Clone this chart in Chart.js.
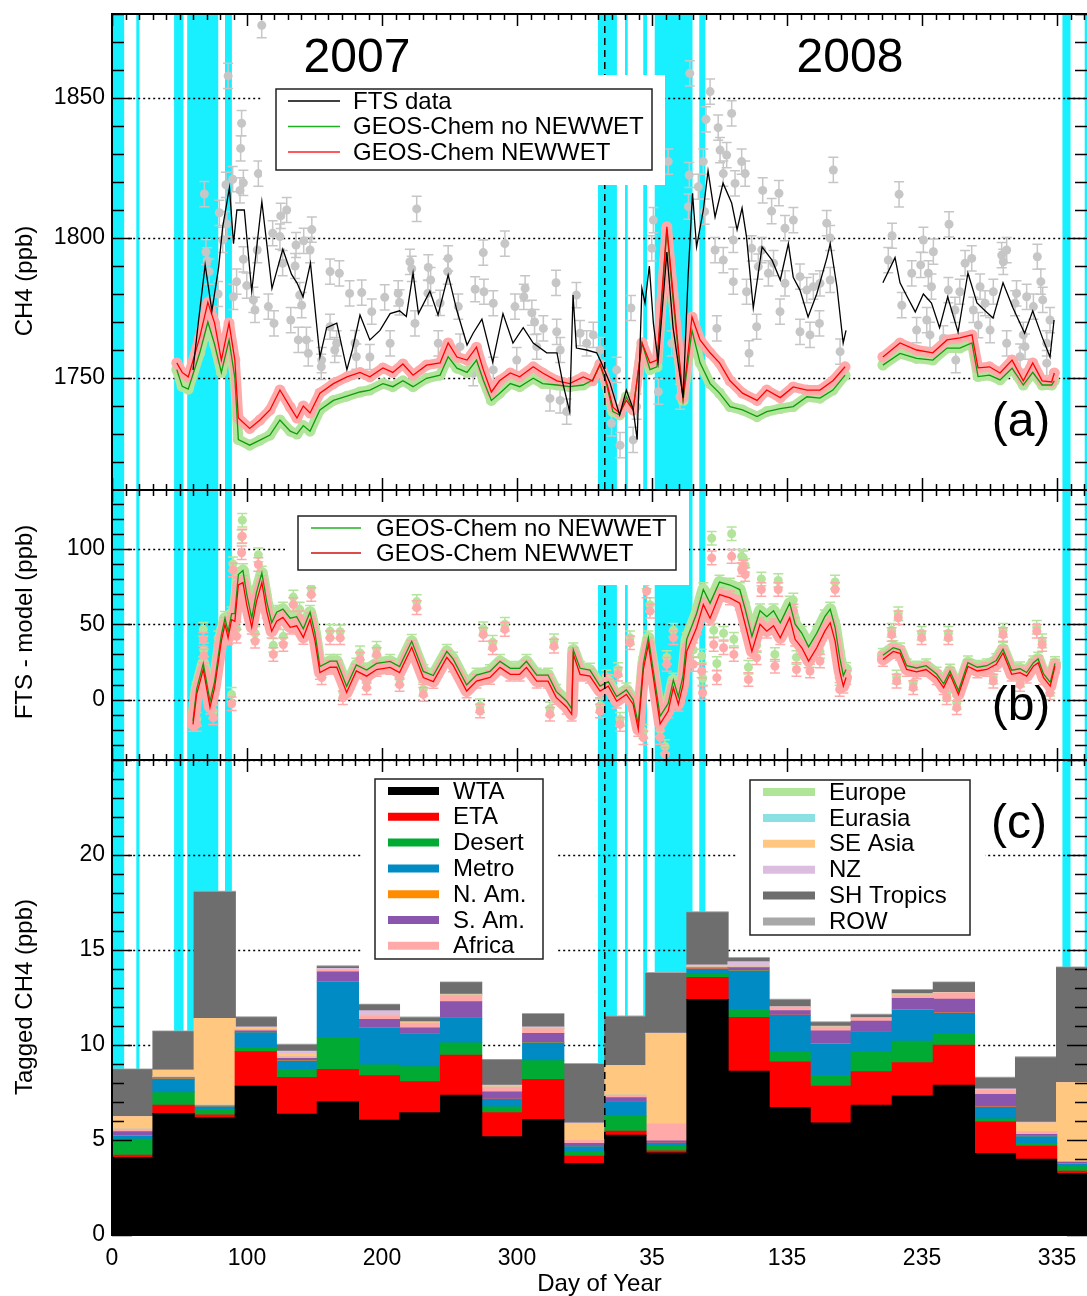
<!DOCTYPE html>
<html>
<head>
<meta charset="utf-8">
<script src="https://cdn.jsdelivr.net/npm/chart.js@4.4.1/dist/chart.umd.min.js"></script>
<style>
  body { margin: 0; background: #fff; }
  #quadro { position: relative; width: 1087px; height: 1296px; overflow: hidden; }
  #quadro canvas { position: absolute; left: 0; }
</style>
</head>
<body>
<div id="quadro">
  <canvas id="painelA" width="1087" height="490" style="top:0"></canvas>
  <canvas id="painelB" width="1087" height="270" style="top:490px"></canvas>
  <canvas id="painelC" width="1087" height="536" style="top:760px"></canvas>
</div>
<script>
const FONT = "'Liberation Sans', Arial, Helvetica, sans-serif";
const X_MAX = 722.2;
const yearBreak = 365;

// --- x axis: 2007 day 0 .. 2008 day ~357 on one continuous scale ---
const xTickValues = [0, 100, 200, 300, 400, 500, 600, 700];
const xTickLabels = ['0', '100', '200', '300', '35', '135', '235', '335'];

// days marked in cyan (start, end)
const gapBands = [[0.7, 9], [18, 20.3], [46, 53], [55.7, 78.7], [83.7, 88.8], [360, 374], [380, 382],
  [393.5, 396.3], [402, 430], [435, 439.5], [704, 710], [720.5, 723]];

// --- panel (a): CH4 ---
const ftsLine = [[60,1752.9],[64,1770],[69,1790.4],[74,1774],[79,1789.6],[82,1804],[87,1818],[90,1798],[92.5,1810],[98,1810],
  [103.5,1781],[111,1813],[118.5,1782],[126.5,1796],[133,1787],[137,1784],[141.5,1779],[147,1791],[154,1757.5],[159,1768],
  [166.5,1769.6],[174,1753],[178,1760],[183.7,1772.5],[191,1763.6],[198.5,1767],[206,1773],[213,1774],[218,1772],[223,1787.5],
  [227,1773],[235.5,1781],[241.5,1772.5],[249,1786.8],[255.5,1774],[263,1761.8],[267.5,1766],[274,1771],[282,1755.7],[289.6,1773],
  [297,1762.5],[304.6,1768],[312,1762.5],[322,1759],[329.6,1759],[334,1748],[339,1738],[341.5,1779.6],[344,1760.7],[351.6,1760],
  [359,1759],[362,1756],[369,1748],[376,1736.8],[381,1745.7],[386,1739],[389,1728],[392.5,1782],[394.8,1776.8],[398,1790],
  [401,1769.6],[404.5,1755.7],[411,1795],[415.6,1768],[423,1743],[426.7,1786],[430,1816],[433,1796.8],[438,1810],[441.5,1824],
  [446.7,1807.5],[452.6,1819.6],[459,1812.5],[463,1803],[466.7,1810.7],[470,1800.4],[475,1775],[481.5,1796.8],[489,1792],[495,1785],
  [501,1798],[504.6,1786],[509.6,1781.4],[515.6,1771.8],[522,1780],[529.6,1793],[532,1798],[537,1782.5],[541.6,1762.5],[543.7,1767],
  [557,null],
  [571,1784],[580,1793],[583.7,1784],[589,1779],[595,1773.6],[601,1780],[607,1776.8],[613,1768],[619,1779],[626.7,1766.4],
  [634,1787.5],[640.7,1776.8],[646.7,1774],[652.6,1771.4],[660,1784],[667.4,1775],[676,1766],[682,1774],[689,1764.6],[694.8,1757.5],
  [697.8,1770.7]];

const ftsObs = [[110.9,1876],[86,1857.9],[96,1841],[95.3,1832],[97.3,1819.7],[108.4,1823],[84.4,1819],[89.4,1821],[68.4,1815.7],
  [79.5,1809],[94.8,1817],[125,1807.9],[129.4,1810],[119,1801.7],[148,1803],[146.7,1795.7],[136.3,1797.5],[69.6,1795],[70.5,1792],
  [107.6,1795.7],[97.3,1792.4],[124.4,1800.5],[126.4,1791],[161.5,1788],[168.4,1787.4],[92.3,1784.4],[99.8,1783],[89.9,1779],
  [104.7,1777.9],[105.9,1774.3],[115.8,1775.5],[120,1769.5],[132.4,1770.7],[140.5,1776],[139,1779.6],[138,1763.6],[144,1763.6],
  [145.4,1758.8],[155.3,1756.4],[161.5,1768.3],[165,1760],[166.4,1762.4],[155,1754],[82,1799.3],[85,1805],[73.8,1774.3],[72,1788],
  [78.6,1780],[135.6,1790],[142,1799],[176,1780.2],[181,1757.6],
  [225.7,1810.4],[275,1794.8],[291,1798],[328.9,1784],[344,1779.6],[220.7,1791.5],[222,1789],[234.3,1789.5],[236,1785],[249,1792.7],
  [248.7,1788],[185,1780.5],[202,1778.8],[212,1780.2],[213,1777],[192.4,1773.7],[234,1780.3],[243,1776.8],[256.5,1775.5],[269,1781.7],
  [275.5,1780.8],[282.4,1776.7],[306,1782],[305,1779],[311,1773.3],[313,1770],[298.5,1775.5],[319.5,1767.7],[329.4,1766.5],[332,1760],
  [324.4,1742.7],[336.8,1738],[331.9,1742],[346.7,1766],[351.6,1762.4],[356.5,1765.4],[206,1762.4],[191,1757.5],[224.4,1769.5],
  [241.7,1762.4],[267.6,1751.7],[282.4,1752.9],[299.8,1756.4],[180,1762.5],[257.8,1761.2],[314.6,1761.2],
  [428,1858.8],[443,1852.3],[459,1844.5],[449,1839.4],[440,1842.4],[450.4,1831.4],[455.3,1829.6],[466.4,1827.3],[469,1823],
  [461.5,1819.5],[452.8,1823],[438,1827.3],[412,1827.3],[427.6,1822.5],[434.3,1818.3],[482,1817],[494,1816],[488.6,1809.6],
  [498.5,1803.5],[504.7,1806.4],[534.3,1824.3],[529.4,1805.3],[531.9,1800],[401,1806.4],[399.8,1796.3],[384.4,1775],[446.7,1795.7],
  [452.8,1792.1],[460.2,1799.3],[473.8,1796.3],[481.3,1795.7],[486.2,1787.4],[478.7,1789.8],[490,1791],[498.5,1783.8],[509.6,1786.2],
  [514.6,1781.4],[519.5,1782.6],[524.4,1783.8],[532,1785],[460.2,1784.4],[470,1780.8],[448,1767.7],[477.5,1768.3],[494.8,1773.7],
  [509.6,1766.5],[517,1765.4],[524,1769.5],[539.3,1759.4],[471.9,1758.8],[427,1811.2],[439,1809.4],[420.7,1743.3],[370,1733.8],
  [376.3,1726],[386,1727.9],[373.8,1752.9],[361.5,1760],[388.6,1739.8],[404.7,1745.1],[414.6,1762.4],
  [583,1815.6],[620,1804.9],[577.8,1800.8],[601,1799.3],[608.4,1795.1],[575,1792.1],[599,1790.4],[604.7,1787.4],[592.4,1787.4],
  [631.9,1791],[636.8,1792.7],[659,1793.9],[662.7,1795.7],[660.2,1791.5],[685.4,1793.3],[688,1784.4],[689.4,1777.9],[694.8,1770.7],
  [607,1782.6],[619.5,1781.4],[628,1780.8],[643,1782.6],[646.7,1776.7],[652.8,1780.8],[670,1780.2],[668.9,1776.7],[677.5,1779],
  [682.5,1775.5],[585,1776],[603.5,1770.7],[596,1767.1],[605.9,1765.4],[624.4,1774.3],[638,1774.3],[641.7,1768.9],[650.4,1767.1],
  [662.7,1762.4],[675,1765.4],[676.3,1761.2],[672.6,1757.6],[692.4,1762.4],[692.4,1755.3],[625,1756.4],[615.8,1764.2]];

const modelNewWet = [[48,1755.4],[52,1752],[56.5,1750.4],[65,1764.6],[71,1777],[76,1769.6],[81,1756.4],[86.7,1769.6],[91,1756.4],
  [93.6,1735.7],[102,1732],[109.6,1735],[117,1738.6],[124.4,1745.7],[132,1739.6],[137,1735.7],[141.7,1740],[146.7,1737.5],[154,1744.6],
  [164,1748],[174,1750.4],[183.7,1752],[191,1750.4],[200.7,1753.6],[208,1752],[215.5,1755],[223,1751],[233,1754.6],[243,1755.4],
  [249,1762.5],[255.5,1757.5],[263,1756.4],[270,1761],[275,1753],[281,1745],[287,1749],[295,1751.8],[302,1750.4],[312,1754],
  [319,1751.8],[329.6,1749],[339,1748],[349,1750.4],[356,1749],[361.5,1755],[366.7,1748],[371,1739.6],[376,1737.5],[381,1742],
  [386,1738.6],[392.6,1762.5],[398.5,1755.4],[403.7,1756.4],[411,1804],[415.6,1780],[423,1743],[429.6,1771.8],[435.6,1763.6],
  [443,1759],[450,1755.4],[457.8,1749],[467,1744.6],[477.8,1742],[485,1745.7],[495,1743],[504.6,1746.8],[514.8,1745.7],[524.4,1745.7],
  [534,1749],[543,1754],
  [557,null],
  [571,1757.5],[583.7,1762.5],[596,1760],[608,1759],[618.5,1763.6],[628,1764.3],[637,1765.4],[641.5,1753.6],[650,1754],[657.8,1751.8],
  [666.7,1756.4],[675,1749],[682,1755.4],[689,1749],[696,1748.6],[698,1751.8]];

const modelNoWet = [[48,1753],[52,1747],[56.5,1746],[65,1759],[71,1770],[76,1762],[81,1752],[86.7,1763.6],[91,1750],
  [93.6,1728],[102,1726],[109.6,1727.8],[117,1729.6],[124.4,1735],[132,1731],[137,1730],[141.7,1733],[146.7,1731],[154,1738.6],
  [164,1742],[174,1743.5],[183.7,1745],[191,1745.7],[200.7,1748],[208,1746.9],[215.5,1749],[223,1746.9],[233,1749.9],[243,1751],
  [249,1757.6],[255.5,1753.5],[263,1752],[270,1756.4],[275,1749.3],[281,1742],[287,1744.5],[295,1748],[302,1746.9],[312,1749.9],
  [319,1748],[329.6,1747.5],[339,1746.9],[349,1747.5],[356,1749.3],[361.5,1754.6],[366.7,1747],[371,1738],[376,1736.8],[381,1743.3],
  [386,1738.6],[392.6,1762.5],[398.5,1753],[403.7,1754],[411,1803],[415.6,1778],[423,1742],[429.6,1767],[435.6,1755.4],
  [443,1748],[450,1744.6],[457.8,1739.8],[467,1738.6],[477.8,1736.2],[485,1738],[495,1739.1],[504.6,1739.8],[514.8,1743.3],[524.4,1742.8],
  [534,1745.7],[543,1751],
  [557,null],
  [571,1754.6],[583.7,1758.8],[596,1757],[608,1756.4],[618.5,1760.7],[628,1760.7],[637,1762.5],[641.5,1750.5],[650,1751],[657.8,1749.3],
  [666.7,1753.5],[675,1747.5],[682,1752],[689,1747.5],[696,1747.5],[698,1749]];

// --- panel (b): FTS - model ---
const diffNewWet = [[60,-16.4],[62.7,3.5],[67.6,20],[72.6,-5],[76,8],[81,38.8],[83.7,49.9],[86,41],[88.6,53],[91,52],[93.6,76],
  [97,77.6],[99.8,63],[103.5,48],[107,65],[111,77.6],[114.6,58.7],[118.3,45.4],[122,52],[126.6,54.5],[132,48],[136.8,49],[141.7,41.3],
  [146.7,53],[150.4,38.8],[154,18],[161.5,21.5],[166.5,21.5],[173.8,4.8],[181,19],[188.6,15.6],[196,20],[206,21.4],[213,18],[222,34.7],
  [230.6,14.7],[238,12],[248,28],[252.6,23],[262.7,5.7],[270,12.3],[280,14.7],[287.4,21.4],[295,16.8],[302,16.8],[307,21.4],[314.6,12.3],
  [323,12.3],[329,1.5],[336.8,-5],[340.5,-9.7],[341.7,30],[346.7,16.8],[354,15.6],[361.5,5.7],[367.6,9],[373.8,-1],[381,3.5],[386,-3],
  [389.8,-19.7],[393.6,20],[397.3,36.6],[401,14.6],[406,-16],[412,-7.5],[415.8,8],[419.5,-3],[423,10],[425.7,32],[433,47.7],[438,63],
  [443,54],[450,69.7],[457.8,67.5],[465,64],[469,50],[474,32],[480,50],[485,45.4],[490,49],[495,41],[502,54.3],[506,40],[511,34.4],
  [516,25.6],[522,34.4],[528,45.4],[532,51],[535.6,38.8],[539,19],[541.7,9],[543.7,14.7],
  [557,null],
  [571,26.7],[578.7,32],[583.7,30.7],[588.6,20],[596,18.4],[603,20],[610.8,14.6],[616,8],[620.7,16.8],[627,3.5],[634,22],[641,19],
  [648,20],[655,23.4],[660,31],[666.4,16.8],[672.6,17.9],[677.5,15.6],[682.5,22.2],[686,24.5],[690,14.6],[695,9],[698.5,22.2]];

const diffNoWet = [[60,-14],[62.7,7],[67.6,24],[72.6,-1],[76,12],[81,43],[83.7,54],[86,45],[88.6,57],[91,57],[93.6,83],
  [97,85.6],[99.8,70],[103.5,54],[107,71],[111,84],[114.6,65],[118.3,51],[122,58],[126.6,60],[132,54],[136.8,55],[141.7,47],
  [146.7,58],[150.4,44],[154,22],[161.5,25.5],[166.5,25.5],[173.8,8.8],[181,23],[188.6,19.6],[196,24],[206,25.4],[213,22],[222,38.7],
  [230.6,18.7],[238,16],[248,32],[252.6,27],[262.7,9.7],[270,16.3],[280,18.7],[287.4,25.4],[295,20.8],[302,20.8],[307,25.4],[314.6,16.3],
  [323,16.3],[329,5.5],[336.8,-1],[340.5,-6],[341.7,33],[346.7,20.8],[354,19.6],[361.5,9],[367.6,12],[373.8,2],[381,6.5],[386,0],
  [389.8,-16],[393.6,24],[397.3,41],[401,19],[406,-11],[412,-2.5],[415.8,13],[419.5,2],[423,16],[425.7,40],[433,57],[438,73],
  [443,64],[450,78],[457.8,76],[465,73],[469,60],[474,42],[480,59],[485,55],[490,59],[495,51],[502,64],[506,50],[511,44],
  [516,35],[522,44],[528,55],[532,60],[535.6,48],[539,28],[541.7,16],[543.7,20],
  [557,null],
  [571,29.5],[578.7,34.5],[583.7,33],[588.6,22.5],[596,21],[603,22.5],[610.8,17],[616,10.5],[620.7,19],[627,6],[634,24.5],[641,21.5],
  [648,22.5],[655,26],[660,33.5],[666.4,19.5],[672.6,20.5],[677.5,18],[682.5,24.5],[686,27],[690,17],[695,11.5],[698.5,24]];

// [day, NEWWET, no NEWWET]
const diffObs = [[96,97.4,108],[96.5,108.4,119],[108.4,89.6,96],[89.6,86,90],[92.3,42,47],[62.7,-16.4,-13],[67.6,40,46.6],[68,29,33],
  [75,-12,-8],[88.6,-2.7,3.5],[78.8,36.6,41],[85,45.4,50],[106,38.8,44],[119.5,30,36],[126.9,36.6,42],[139,54.3,60],[147.6,69.7,74],
  [134.3,63,68],[161.5,41,45.4],[169,41,45],[155.3,14.6,19],[171,1.3,5],[183.7,26.7,31],[196,30,34],[225.7,61,65],[230.6,3.5,7],
  [188.6,8,12],[213,10,14],[291,46.6,50],[275,43.2,47],[282,34.4,38],[327.4,35.5,39],[383.7,37.7,41],[396,72,78],[398.5,58.7,63],
  [409.6,-36.2,-31],[406,-25,-20],[415.8,41,46],[410.9,23.4,28],[430.6,23.4,33],[436.8,19,29],[437.5,4.6,14],[444.2,94,107],[459,95,110],
  [466.4,86.3,95],[445.7,36.6,46],[453,34.4,44],[460.6,30,40],[448,14.6,24],[272.6,-7.5,-4],[324.4,-9.7,-6],[361.5,-7.5,-4],
  [376.3,-16.4,-13],[393.6,-25.2,-21],[366,12.3,15],[374.8,16.8,20],[467.6,88,94],[469,83,89],[481,73,80],[493.5,73,79],[504.7,58.7,66],
  [535.6,73,78],[477.5,27.8,36],[471.4,13.4,21.5],[491,22.2,30],[507,20,28],[517,19,26],[524.4,25.6,32],[539,6.8,14],[582.4,54.3,57],
  [577.5,43.2,46],[599.7,41,44],[619.5,41,44],[685,45.4,48],[689,36.6,39],[660,43.2,46],[593.5,8,11],[625.7,-5.3,-2],[618.3,1.3,4],
  [694.8,4.6,7],[652.8,12.3,15],[672.6,10,13],[581.2,12.3,15]];

// --- panel (c): tagged CH4, monthly ---
const monthCenters = [15.2, 45.6, 76.1, 106.5, 136.9, 167.3, 197.7, 228.2, 258.6, 289.0, 319.4, 349.8,
  380.3, 410.7, 441.1, 471.5, 501.9, 532.4, 562.8, 593.2, 623.6, 654.0, 684.5, 714.9];
const tagNames = ['WTA', 'ETA', 'Desert', 'Metro', 'N. Am.', 'S. Am.', 'Africa', 'Europe', 'Eurasia', 'SE Asia', 'NZ', 'SH Tropics', 'ROW'];
const tagColors = ['#000000', '#ff0000', '#00aa33', '#008bc4', '#ff8c00', '#8a55ad', '#ffaaa8', '#b0e497', '#8ae0e2', '#ffc77f', '#dcbde0', '#6e6e6e', '#a8a8a8'];
const tagWTA = [4.09, 6.40, 6.18, 7.84, 6.37, 7.02, 6.05, 6.44, 7.37, 5.18, 6.09, 3.77, 5.26, 4.33, 12.40, 8.63, 6.72, 5.91, 6.84, 7.33, 7.89, 4.30, 4.00, 3.25];
const tagETA = [0.12, 0.44, 0.14, 1.81, 1.93, 1.70, 2.34, 1.63, 2.10, 1.26, 2.10, 0.39, 0.21, 0.10, 1.16, 2.83, 2.40, 1.93, 1.76, 1.74, 2.11, 1.66, 0.68, 0.12];
const tagDesert = [0.84, 0.65, 0.29, 0.23, 0.42, 1.68, 0.56, 0.79, 0.65, 0.31, 0.99, 0.21, 0.79, 0.25, 0.16, 0.42, 0.51, 0.56, 1.05, 1.14, 0.58, 0.15, 0.14, 0.23];
const tagMetro = [0.16, 0.72, 0.14, 0.77, 0.44, 2.93, 1.96, 1.70, 1.28, 0.39, 0.94, 0.28, 0.76, 0.14, 0.26, 2.03, 1.93, 1.65, 1.05, 1.63, 1.09, 0.61, 0.36, 0.12];
const tagNAm = [0.02, 0.02, 0.01, 0.02, 0.02, 0.02, 0.02, 0.02, 0.02, 0.02, 0.02, 0.02, 0.02, 0.02, 0.03, 0.02, 0.02, 0.02, 0.02, 0.02, 0.02, 0.02, 0.02, 0.02];
const tagSAm = [0.21, 0.05, 0.04, 0.08, 0.12, 0.50, 0.42, 0.33, 0.86, 0.38, 0.47, 0.15, 0.19, 0.12, 0.05, 0.14, 0.23, 0.68, 0.54, 0.60, 0.73, 0.66, 0.10, 0.10];
const tagAfrica = [0.14, 0.05, 0.04, 0.08, 0.09, 0.09, 0.18, 0.23, 0.35, 0.25, 0.25, 0.16, 0.14, 0.88, 0.05, 0.05, 0.17, 0.21, 0.14, 0.17, 0.30, 0.23, 0.14, 0.04];
const tagEurope = [0, 0, 0, 0, 0, 0, 0, 0, 0, 0, 0, 0, 0, 0, 0, 0, 0, 0, 0, 0, 0, 0, 0, 0];
const tagEurasia = [0, 0, 0, 0, 0, 0, 0, 0, 0, 0, 0, 0, 0, 0, 0, 0, 0, 0, 0, 0, 0, 0, 0, 0];
const tagSEAsia = [0.65, 0.35, 4.56, 0.08, 0.14, 0.03, 0.05, 0.04, 0.03, 0.05, 0.03, 0.88, 1.54, 4.77, 0.07, 0.02, 0.02, 0.02, 0.02, 0.05, 0.02, 0.03, 0.47, 4.14];
const tagNZ = [0.02, 0.00, 0.00, 0.05, 0.15, 0.06, 0.23, 0.05, 0.02, 0.05, 0.07, 0.05, 0.02, 0.02, 0.04, 0.25, 0.02, 0.02, 0.02, 0.02, 0.03, 0.03, 0.03, 0.02];
const tagSHTropics = [2.45, 2.02, 6.65, 0.48, 0.32, 0.10, 0.30, 0.20, 0.60, 1.31, 0.66, 3.07, 2.55, 3.14, 2.75, 0.17, 0.35, 0.18, 0.14, 0.18, 0.51, 0.57, 3.40, 6.03];
const tagROW = [0.04, 0.05, 0.05, 0.05, 0.05, 0.05, 0.05, 0.05, 0.05, 0.05, 0.05, 0.05, 0.05, 0.05, 0.05, 0.05, 0.05, 0.05, 0.05, 0.05, 0.05, 0.05, 0.05, 0.05];
const tagSeries = [tagWTA, tagETA, tagDesert, tagMetro, tagNAm, tagSAm, tagAfrica, tagEurope, tagEurasia, tagSEAsia, tagNZ, tagSHTropics, tagROW];

// --- helpers ---
const toXY = pares => pares.map(p => ({ x: p[0], y: p[1] }));

function pontos(data, cor, ordem, erro, raio) {
  return { data, showLine: false, pointRadius: raio || 4.5, pointBorderWidth: 0, pointBackgroundColor: cor,
    pointBorderColor: cor, order: ordem, erro: erro || 0, corErro: cor };
}
function linha(data, cor, ordem) {
  return { data, borderColor: cor, borderWidth: 1.3, pointRadius: 0, spanGaps: false, order: ordem, tension: 0 };
}
// thick band standing for the dense model dots
function faixa(data, cor, largura, ordem) {
  return { data, borderColor: cor, borderWidth: largura, pointRadius: 0, spanGaps: false, order: ordem,
    borderCapStyle: 'round', borderJoinStyle: 'round', tension: 0 };
}

function desenhaLegenda(ctx, lg) {
  ctx.save();
  ctx.fillStyle = '#fff';
  ctx.fillRect(lg.white[0], lg.white[1], lg.white[2], lg.white[3]);
  ctx.strokeStyle = '#222'; ctx.lineWidth = 1.5;
  ctx.strokeRect(lg.box[0], lg.box[1], lg.box[2], lg.box[3]);
  ctx.font = '24px ' + FONT;
  ctx.textBaseline = 'middle';
  lg.items.forEach((it, i) => {
    const yy = lg.y0 + i * lg.dy;
    ctx.strokeStyle = it.color; ctx.lineWidth = lg.lw;
    ctx.beginPath(); ctx.moveTo(lg.x1, yy); ctx.lineTo(lg.x2, yy); ctx.stroke();
    ctx.fillStyle = '#000';
    ctx.fillText(it.label, lg.tx, yy + 1);
  });
  ctx.restore();
}

// frame, ticks, bands, grid, legend, labels for one panel
function decor(cfg) {
  return {
    id: 'decor',
    beforeDatasetsDraw(chart) {
      const { ctx, chartArea: ca, scales: { x, y } } = chart;
      ctx.save();
      ctx.beginPath(); ctx.rect(ca.left, ca.top, ca.width, ca.height); ctx.clip();
      ctx.fillStyle = '#18f0ff';
      gapBands.forEach(b => {
        const x1 = x.getPixelForValue(b[0]), x2 = x.getPixelForValue(b[1]);
        ctx.fillRect(x1, ca.top, x2 - x1, ca.height);
      });
      ctx.strokeStyle = '#000'; ctx.lineWidth = 1.5; ctx.setLineDash([2, 3]);
      y.ticks.forEach(t => {
        const py = Math.round(y.getPixelForValue(t.value)) + 0.5;
        ctx.beginPath(); ctx.moveTo(x.getPixelForValue(12), py); ctx.lineTo(ca.right, py); ctx.stroke();
      });
      ctx.restore();
    },
    beforeDatasetDraw(chart, args) {
      const ds = chart.data.datasets[args.index];
      if (!ds.erro) return;
      const { ctx, chartArea: ca, scales: { y } } = chart;
      const meta = args.meta;
      ctx.save();
      ctx.beginPath(); ctx.rect(ca.left, ca.top, ca.width, ca.height); ctx.clip();
      ctx.strokeStyle = ds.corErro; ctx.lineWidth = 1.5;
      meta.data.forEach((p, i) => {
        const v = meta._parsed[i].y;
        if (v === null || v === undefined || isNaN(v)) return;
        const y1 = y.getPixelForValue(v - ds.erro), y2 = y.getPixelForValue(v + ds.erro);
        ctx.beginPath();
        ctx.moveTo(p.x, y1); ctx.lineTo(p.x, y2);
        ctx.moveTo(p.x - 5, y1); ctx.lineTo(p.x + 5, y1);
        ctx.moveTo(p.x - 5, y2); ctx.lineTo(p.x + 5, y2);
        ctx.stroke();
      });
      ctx.restore();
    },
    afterDatasetsDraw(chart) {
      const { ctx, chartArea: ca, scales: { x } } = chart;
      ctx.save();
      const px = x.getPixelForValue(yearBreak);
      ctx.strokeStyle = '#000'; ctx.lineWidth = 1.5; ctx.setLineDash([7, 5]);
      ctx.beginPath(); ctx.moveTo(px, ca.top); ctx.lineTo(px, ca.bottom); ctx.stroke();
      ctx.restore();
      (cfg.legendas || []).forEach(lg => desenhaLegenda(ctx, lg));
      ctx.save();
      ctx.fillStyle = '#000'; ctx.textAlign = 'center'; ctx.textBaseline = 'alphabetic';
      (cfg.textos || []).forEach(t => {
        ctx.font = t.size + 'px ' + FONT;
        ctx.fillText(t.text, t.x, t.y);
      });
      ctx.restore();
    },
    afterDraw(chart) {
      const { ctx, chartArea: ca, scales: { x, y } } = chart;
      ctx.save();
      ctx.strokeStyle = '#000'; ctx.lineWidth = 1.5;
      for (let d = 0; d <= x.max; d += 10) {
        const px = Math.round(x.getPixelForValue(d)) + 0.5;
        const len = d % 100 === 0 ? 12 : 6;
        ctx.beginPath();
        ctx.moveTo(px, ca.top); ctx.lineTo(px, ca.top + len);
        ctx.moveTo(px, ca.bottom); ctx.lineTo(px, ca.bottom - len);
        ctx.stroke();
      }
      for (let k = Math.ceil(y.min / cfg.yMinor); k * cfg.yMinor <= y.max; k++) {
        const v = k * cfg.yMinor;
        const py = Math.round(y.getPixelForValue(v)) + 0.5;
        const len = v % cfg.yMajor === 0 ? 20 : 12;
        ctx.beginPath();
        ctx.moveTo(ca.left, py); ctx.lineTo(ca.left + len, py);
        ctx.moveTo(ca.right, py); ctx.lineTo(ca.right - len, py);
        ctx.stroke();
      }
      ctx.lineWidth = 2;
      ctx.beginPath();
      ctx.moveTo(ca.right + 5, ca.top); ctx.lineTo(ca.left, ca.top);
      ctx.lineTo(ca.left, ca.bottom); ctx.lineTo(ca.right + 5, ca.bottom);
      ctx.stroke();
      // y title
      ctx.translate(cfg.titulo.x, cfg.titulo.y);
      ctx.rotate(-Math.PI / 2);
      ctx.fillStyle = '#000'; ctx.font = '24px ' + FONT;
      ctx.textAlign = 'center'; ctx.textBaseline = 'middle';
      ctx.fillText(cfg.titulo.text, 0, 0);
      ctx.restore();
    }
  };
}

function eixoY(min, max, passo, esconder) {
  return {
    type: 'linear', min, max, position: 'left',
    grid: { display: false, drawTicks: false }, border: { display: false },
    ticks: {
      stepSize: passo, includeBounds: false, padding: 7, color: '#000', font: { size: 23, family: FONT },
      callback: v => (v === esconder ? '' : String(v))
    },
    afterFit: s => { s.width = 112; s.paddingTop = 0; s.paddingBottom = 0; }
  };
}
const eixoXOculto = { type: 'linear', min: 0, max: X_MAX, display: false };

const base = {
  responsive: false, animation: false, devicePixelRatio: 1, events: [],
  plugins: { legend: { display: false }, tooltip: { enabled: false } }
};

// --- panel (a) ---
new Chart(document.getElementById('painelA'), {
  type: 'line',
  data: {
    datasets: [
      pontos(toXY(ftsObs), '#c6c6c6', 8, 4.5),
      faixa(toXY(modelNoWet), '#b2e59b', 10, 7),
      pontos(toXY(modelNoWet), '#b2e59b', 6, 0, 5.5),
      faixa(toXY(modelNewWet), '#ffaaaa', 10, 5),
      pontos(toXY(modelNewWet), '#ffaaaa', 4, 0, 5.5),
      linha(toXY(modelNoWet), '#0c9c0c', 2),
      linha(toXY(modelNewWet), '#ff0000', 1),
      linha(toXY(ftsLine), '#000000', 0)
    ]
  },
  options: Object.assign({}, base, {
    layout: { padding: { top: 14, right: 0, bottom: 0, left: 0 }, autoPadding: false },
    scales: { x: eixoXOculto, y: eixoY(1710, 1880, 50) }
  }),
  plugins: [decor({
    yMinor: 10, yMajor: 50,
    titulo: { text: 'CH4 (ppb)', x: 25, y: 281 },
    legendas: [{
      white: [262, 75, 403, 110], box: [276, 89, 376, 81], x1: 288, x2: 340, tx: 353, y0: 101, dy: 25.5, lw: 1.3,
      items: [{ label: 'FTS data', color: '#000' }, { label: 'GEOS-Chem no NEWWET', color: '#1fb21f' }, { label: 'GEOS-Chem NEWWET', color: '#ff2020' }]
    }],
    textos: [
      { text: '2007', x: 357, y: 72, size: 48 },
      { text: '2008', x: 850, y: 72, size: 48 },
      { text: '(a)', x: 1021, y: 436, size: 48 }
    ]
  })]
});

// --- panel (b) ---
new Chart(document.getElementById('painelB'), {
  type: 'line',
  data: {
    datasets: [
      pontos(toXY(diffNoWet), '#b2e59b', 9, 4.5),
      faixa(toXY(diffNoWet), '#b2e59b', 12, 8),
      pontos(diffObs.map(p => ({ x: p[0], y: p[2] })), '#b2e59b', 7, 4.5),
      pontos(toXY(diffNewWet), '#ffaaaa', 6, 4.5),
      faixa(toXY(diffNewWet), '#ffaaaa', 12, 5),
      pontos(diffObs.map(p => ({ x: p[0], y: p[1] })), '#ffaaaa', 4, 4.5),
      linha(toXY(diffNoWet), '#0c9c0c', 2),
      linha(toXY(diffNewWet), '#ff0000', 1)
    ]
  },
  options: Object.assign({}, base, {
    layout: { padding: 0, autoPadding: false },
    scales: { x: eixoXOculto, y: eixoY(-40, 139, 50) }
  }),
  plugins: [decor({
    yMinor: 10, yMajor: 50,
    titulo: { text: 'FTS - model (ppb)', x: 25, y: 132 },
    legendas: [{
      white: [285, 0, 404, 95], box: [298, 26, 378, 54], x1: 311, x2: 361, tx: 376, y0: 38, dy: 25, lw: 1.3,
      items: [{ label: 'GEOS-Chem no NEWWET', color: '#1fb21f' }, { label: 'GEOS-Chem NEWWET', color: '#d01010' }]
    }],
    textos: [{ text: '(b)', x: 1021, y: 230, size: 48 }]
  })]
});

// --- panel (c) ---
new Chart(document.getElementById('painelC'), {
  type: 'bar',
  data: {
    datasets: tagSeries.map((serie, i) => ({
      label: tagNames[i],
      data: monthCenters.map((m, j) => ({ x: m, y: serie[j] })),
      backgroundColor: tagColors[i], borderWidth: 0, barThickness: 41.6
    }))
  },
  options: Object.assign({}, base, {
    layout: { padding: 0, autoPadding: false },
    scales: {
      x: {
        type: 'linear', min: 0, max: X_MAX, stacked: true, offset: false, position: 'bottom',
        grid: { display: false, drawTicks: false, offset: false }, border: { display: false },
        ticks: {
          stepSize: 100, includeBounds: false, autoSkip: false, maxRotation: 0, padding: 10, color: '#000',
          font: { size: 23, family: FONT },
          callback: v => { const k = xTickValues.indexOf(v); return k < 0 ? '' : xTickLabels[k]; }
        },
        title: { display: true, text: 'Day of Year', color: '#000', font: { size: 24, family: FONT, lineHeight: 1 }, padding: { top: 0, bottom: 0 } },
        afterFit: s => { s.height = 61; s.paddingLeft = 0; s.paddingRight = 0; }
      },
      y: Object.assign(eixoY(0, 25, 5, 25), { stacked: true })
    }
  }),
  plugins: [decor({
    yMinor: 1, yMajor: 5,
    titulo: { text: 'Tagged CH4 (ppb)', x: 25, y: 237 },
    legendas: [
      {
        white: [363, 7, 194, 205], box: [375, 19, 168, 180], x1: 388, x2: 439, tx: 453, y0: 31, dy: 25.8, lw: 8,
        items: tagNames.slice(0, 7).map((n, i) => ({ label: n, color: tagColors[i] }))
      },
      {
        white: [738, 8, 247, 180], box: [750, 20, 220, 155], x1: 763, x2: 815, tx: 829, y0: 32, dy: 25.9, lw: 8,
        items: tagNames.slice(7).map((n, i) => ({ label: n, color: tagColors[i + 7] }))
      }
    ],
    textos: [{ text: '(c)', x: 1019, y: 78, size: 48 }]
  })]
});
</script>
</body>
</html>
